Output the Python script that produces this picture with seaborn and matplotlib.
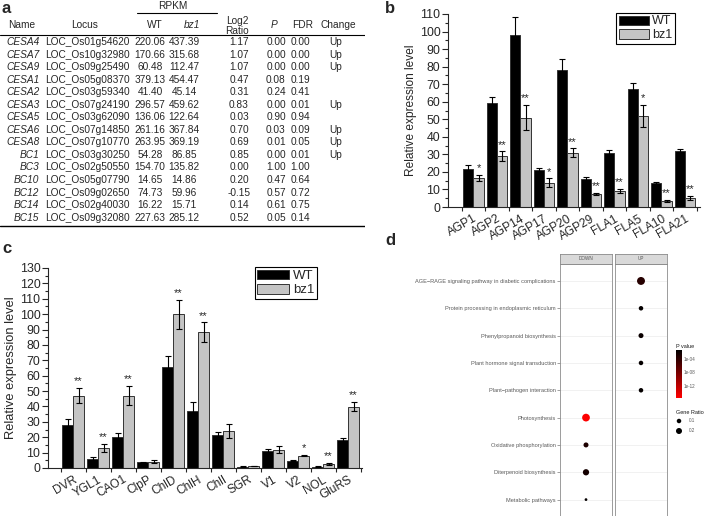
import numpy as np
import pandas as pd
import matplotlib
matplotlib.use("Agg")
import matplotlib.pyplot as plt
import matplotlib.cm as cm
import seaborn as sns
from matplotlib.colors import LinearSegmentedColormap, Normalize
from matplotlib.patches import Patch
from matplotlib.ticker import MultipleLocator, FixedLocator

# ---- panel a: RNA-seq table ----
gene_names = ["CESA4", "CESA7", "CESA9", "CESA1", "CESA2", "CESA3", "CESA5", "CESA6",
              "CESA8", "BC1", "BC3", "BC10", "BC12", "BC14", "BC15"]
loci = ["LOC_Os01g54620", "LOC_Os10g32980", "LOC_Os09g25490", "LOC_Os05g08370",
        "LOC_Os03g59340", "LOC_Os07g24190", "LOC_Os03g62090", "LOC_Os07g14850",
        "LOC_Os07g10770", "LOC_Os03g30250", "LOC_Os02g50550", "LOC_Os05g07790",
        "LOC_Os09g02650", "LOC_Os02g40030", "LOC_Os09g32080"]
rpkm_wt = [220.06, 170.66, 60.48, 379.13, 41.40, 296.57, 136.06, 261.16,
           263.95, 54.28, 154.70, 14.65, 74.73, 16.22, 227.63]
rpkm_bz1 = [437.39, 315.68, 112.47, 454.47, 45.14, 459.62, 122.64, 367.84,
            369.19, 86.85, 135.82, 14.86, 59.96, 15.71, 285.12]
log2_ratio = [1.17, 1.07, 1.07, 0.47, 0.31, 0.83, 0.03, 0.70,
              0.69, 0.85, 0.00, 0.20, -0.15, 0.14, 0.52]
p_col = [0.00, 0.00, 0.00, 0.08, 0.24, 0.00, 0.90, 0.03,
         0.01, 0.00, 1.00, 0.47, 0.57, 0.61, 0.05]
fdr_col = [0.00, 0.00, 0.00, 0.19, 0.41, 0.01, 0.94, 0.09,
           0.05, 0.01, 1.00, 0.64, 0.72, 0.75, 0.14]
change = ["Up", "Up", "Up", "", "", "Up", "", "Up", "Up", "Up", "", "", "", "", ""]

# ---- panel b: qRT-PCR AGP / FLA ----
b_genes = ["AGP1", "AGP2", "AGP14", "AGP17", "AGP20", "AGP29", "FLA1", "FLA5", "FLA10", "FLA21"]
b_wt = [21.9, 59.0, 98.1, 21.0, 78.0, 16.2, 30.5, 67.2, 13.5, 32.2]
b_wt_err = [1.9, 3.9, 10.0, 1.3, 6.2, 0.9, 1.9, 3.3, 1.0, 0.9]
b_bz1 = [16.6, 29.1, 51.0, 13.9, 31.0, 7.4, 9.3, 52.0, 3.4, 5.3]
b_bz1_err = [1.6, 2.6, 7.0, 2.4, 2.4, 0.4, 1.2, 6.4, 0.5, 1.2]
b_sig = ["*", "**", "**", "*", "**", "**", "**", "*", "**", "**"]

# ---- panel c: qRT-PCR chlorophyll genes ----
c_genes = ["DVR", "YGL1", "CAO1", "ClpP", "ChlD", "ChlH", "ChlI", "SGR", "V1", "V2", "NOL", "GluRS"]
c_wt = [28.0, 6.0, 20.0, 3.7, 65.7, 37.0, 21.3, 0.9, 11.2, 4.7, 0.9, 17.9]
c_wt_err = [3.6, 0.9, 2.5, 0.4, 7.0, 5.7, 2.0, 0.2, 1.3, 0.3, 0.2, 1.7]
c_bz1 = [47.0, 12.9, 47.0, 4.2, 100.0, 88.4, 24.1, 1.3, 12.0, 8.0, 2.6, 39.9]
c_bz1_err = [4.8, 2.6, 6.2, 0.7, 9.4, 6.2, 4.5, 0.2, 2.0, 0.5, 0.6, 2.8]
c_sig = ["**", "**", "**", "", "**", "**", "", "", "", "*", "**", "**"]

# ---- panel d: KEGG enrichment ----
pathways = ["AGE\u2212RAGE signaling pathway in diabetic complications",
            "Protein processing in endoplasmic reticulum",
            "Phenylpropanoid biosynthesis",
            "Plant hormone signal transduction",
            "Plant\u2212pathogen interaction",
            "Photosynthesis",
            "Oxidative phosphorylation",
            "Diterpenoid biosynthesis",
            "Metabolic pathways"]
directions = ["UP", "UP", "UP", "UP", "UP", "DOWN", "DOWN", "DOWN", "DOWN"]
gene_ratio = [0.37, 0.10, 0.13, 0.10, 0.10, 0.35, 0.13, 0.22, 0.02]
p_values = [3e-4, 2e-2, 1e-2, 2e-2, 2e-2, 5e-16, 1e-3, 3e-3, 2e-2]
ratio_breaks = [0.1, 0.2]
p_breaks = [-4, -8, -12]
p_break_labels = ["1e-04", "1e-08", "1e-12"]

W, H = 709, 516


def box(x0, y0, x1, y1):
    # pixel rectangle (origin top-left) -> figure fraction
    return [x0 / W, 1 - y1 / H, (x1 - x0) / W, (y1 - y0) / H]


sns.set_style("ticks")
plt.rcParams["font.family"] = ["Liberation Sans", "DejaVu Sans"]
plt.rcParams["axes.linewidth"] = 0.8

fig = plt.figure(figsize=(W / 100, H / 100), dpi=100)

# ---------------- a ----------------
ax_a = fig.add_axes(box(0, 0, 365, 232))
ax_a.set_xlim(0, 365)
ax_a.set_ylim(232, 0)
ax_a.axis("off")
fs = 7.3
hy = 25
ax_a.text(173, 6, "RPKM", ha="center", va="center", fontsize=fs)
ax_a.plot([137, 217], [13, 13], color="black", lw=0.8)
for x, t, st in [(22, "Name", "normal"), (85, "Locus", "normal"), (155, "WT", "normal"),
                 (192, "bz1", "italic"), (274, "P", "italic"), (303, "FDR", "normal"),
                 (338, "Change", "normal")]:
    ax_a.text(x, hy, t, ha="center", va="center", fontsize=fs, style=st)
ax_a.text(237, 26, "Log2\nRatio", ha="center", va="center", fontsize=fs, linespacing=1.0)
ax_a.plot([0, 365], [34.5, 34.5], color="black", lw=0.8)
row0, dy = 42, 12.55
for i in range(len(gene_names)):
    y = row0 + i * dy
    ax_a.text(39.5, y, gene_names[i], ha="right", va="center", fontsize=fs, style="italic")
    ax_a.text(87.5, y, loci[i], ha="center", va="center", fontsize=fs)
    ax_a.text(150, y, f"{rpkm_wt[i]:.2f}", ha="center", va="center", fontsize=fs)
    ax_a.text(184, y, f"{rpkm_bz1[i]:.2f}", ha="center", va="center", fontsize=fs)
    ax_a.text(239, y, f"{log2_ratio[i]:.2f}", ha="center", va="center", fontsize=fs)
    ax_a.text(276, y, f"{p_col[i]:.2f}", ha="center", va="center", fontsize=fs)
    ax_a.text(300, y, f"{fdr_col[i]:.2f}", ha="center", va="center", fontsize=fs)
    ax_a.text(336, y, change[i], ha="center", va="center", fontsize=fs)
ax_a.plot([0, 365], [226, 226], color="black", lw=1.0)

# ---------------- b / c ----------------
GREY = "#c4c4c4"


def bar_panel(ax, genes, wt, wt_err, bz, bz_err, sig, ymax, xlim, lab_fs, tick_fs, star_pad):
    n = len(genes)
    df = pd.DataFrame({"gene": genes + genes,
                       "line": ["WT"] * n + ["bz1"] * n,
                       "level": wt + bz})
    sns.barplot(data=df, x="gene", y="level", hue="line", hue_order=["WT", "bz1"],
                palette={"WT": "black", "bz1": GREY}, saturation=1, width=0.88,
                errorbar=None, edgecolor="#333333", linewidth=0.7, legend=False, ax=ax)
    for cont, errs in zip(ax.containers, [wt_err, bz_err]):
        xs = [b.get_x() + b.get_width() / 2 for b in cont]
        hs = [b.get_height() for b in cont]
        ax.errorbar(xs, hs, yerr=errs, fmt="none", ecolor="black", elinewidth=0.8,
                    capsize=2, capthick=0.8, zorder=3)
    for b, e, s in zip(ax.containers[1], bz_err, sig):
        if s:
            ax.text(b.get_x() + b.get_width() / 2, b.get_height() + e + star_pad, s,
                    ha="center", va="bottom", fontsize=8)
    ax.set_ylim(0, ymax)
    ax.set_xlim(*xlim)
    ax.yaxis.set_major_locator(MultipleLocator(10))
    ax.yaxis.set_minor_locator(MultipleLocator(5))
    ax.xaxis.set_minor_locator(FixedLocator(np.arange(n + 1) - 0.5))
    ax.tick_params(axis="y", which="major", length=4, width=0.8, labelsize=tick_fs, pad=1.5)
    ax.tick_params(axis="y", which="minor", length=2.2, width=0.8)
    ax.tick_params(axis="x", which="major", length=0, labelsize=tick_fs - 0.3, pad=4)
    ax.tick_params(axis="x", which="minor", length=3, width=0.8)
    for lab in ax.get_xticklabels():
        lab.set_rotation(30)
        lab.set_ha("right")
        lab.set_rotation_mode("anchor")
    ax.set_xlabel("")
    ax.set_ylabel("Relative expression level", fontsize=lab_fs, labelpad=2)
    sns.despine(ax=ax)


def bar_legend(ax, anchor, fsz):
    handles = [Patch(facecolor="black", edgecolor="#333333", lw=0.7, label="WT"),
               Patch(facecolor=GREY, edgecolor="#333333", lw=0.7, label="bz1")]
    ax.legend(handles=handles, loc="upper right", bbox_to_anchor=anchor,
              bbox_transform=fig.transFigure, frameon=True, fancybox=False,
              edgecolor="black", framealpha=1, fontsize=fsz, handlelength=2.4,
              handleheight=0.75, handletextpad=0.3, labelspacing=0.15,
              borderpad=0.2, borderaxespad=0).get_frame().set_linewidth(0.8)


ax_b = fig.add_axes(box(448, 14, 700, 207))
bar_panel(ax_b, b_genes, b_wt, b_wt_err, b_bz1, b_bz1_err, b_sig, 110,
          (-1.08, 9.64), 8.6, 8.9, 1.0)
bar_legend(ax_b, (675 / W, 1 - 13 / H), 9)

ax_c = fig.add_axes(box(48, 268, 362, 468))
bar_panel(ax_c, c_genes, c_wt, c_wt_err, c_bz1, c_bz1_err, c_sig, 130,
          (-1.0, 11.56), 9.3, 8.9, 1.2)
bar_legend(ax_c, (317 / W, 1 - 267 / H), 9.5)

# ---------------- d ----------------
kegg = pd.DataFrame({"pathway": pathways, "direction": directions,
                     "ratio": gene_ratio, "p": p_values})
kegg["row"] = np.arange(len(kegg))
kegg["log10p"] = np.log10(kegg["p"])
kegg["xpos"] = 0.0
cmap = LinearSegmentedColormap.from_list("red_black", ["#ff0000", "#000000"])
pnorm = Normalize(-15.5, -1.4)
size_range = (2.3, 35.1)
size_norm = (0, 0.4)
TXT = "#595959"

ax_down = fig.add_axes(box(560, 264, 612, 516))
ax_up = fig.add_axes(box(615, 264, 667, 516))
for ax, direc in [(ax_down, "DOWN"), (ax_up, "UP")]:
    sub = kegg[kegg["direction"] == direc]
    sns.scatterplot(data=sub, x="xpos", y="row", hue="log10p", palette=cmap, hue_norm=pnorm,
                    size="ratio", sizes=size_range, size_norm=size_norm, linewidth=0,
                    legend=False, ax=ax, zorder=3)
    ax.set_xlim(-0.6, 0.6)
    ax.set_ylim(8.6, -0.62)
    ax.set_yticks(range(len(pathways)))
    ax.set_xticks([])
    ax.set_xlabel("")
    ax.set_ylabel("")
    ax.grid(axis="y", color="#ebebeb", lw=0.5)
    ax.set_axisbelow(True)
    for sp in ax.spines.values():
        sp.set_color("#8c8c8c")
        sp.set_linewidth(0.6)
    # facet strip
    sax = fig.add_axes(box(560 if direc == "DOWN" else 615, 254,
                           612 if direc == "DOWN" else 667, 264))
    sax.set_facecolor("#d9d9d9")
    sax.set_xticks([])
    sax.set_yticks([])
    for sp in sax.spines.values():
        sp.set_color("#8c8c8c")
        sp.set_linewidth(0.6)
    sax.text(0.5, 0.5, direc, ha="center", va="center", fontsize=3.3, color="#555555",
             transform=sax.transAxes)
ax_down.set_yticklabels(pathways, fontsize=4.1, color=TXT)
ax_down.tick_params(axis="y", length=2, width=0.4, color=TXT, pad=1)
ax_up.set_yticklabels([])
ax_up.tick_params(axis="y", length=0)

cax = fig.add_axes(box(676, 350, 682, 398))
cb = fig.colorbar(cm.ScalarMappable(norm=pnorm, cmap=cmap), cax=cax)
cb.set_ticks(p_breaks)
cb.set_ticklabels(p_break_labels)
cb.outline.set_visible(False)
cax.tick_params(length=1.5, width=0.4, color="white", direction="in",
                labelsize=3.3, labelcolor=TXT, pad=1.5)
fig.text(676 / W, 1 - 346 / H, "P value", fontsize=4, va="center", color="#1a1a1a")

fig.text(676 / W, 1 - 412 / H, "Gene Ratio", fontsize=4, va="center", color="#1a1a1a")
ax_sz = fig.add_axes(box(674, 416, 709, 436))
sns.scatterplot(x=[0, 0], y=[0, 1], size=ratio_breaks, sizes=size_range, size_norm=size_norm,
                color="black", linewidth=0, legend=False, ax=ax_sz)
for i, r in enumerate(ratio_breaks):
    ax_sz.text(1.0, i, f"{r:g}", fontsize=3.3, va="center", color=TXT)
ax_sz.set_xlim(-0.5, 3)
ax_sz.set_ylim(1.5, -0.5)
ax_sz.axis("off")

# panel letters
for x, y, t in [(1, 13, "a"), (385, 13, "b"), (2, 253, "c"), (385, 245, "d")]:
    fig.text(x / W, 1 - y / H, t, fontsize=12, weight="bold", va="baseline")

fig.savefig("out.png", dpi=100)
